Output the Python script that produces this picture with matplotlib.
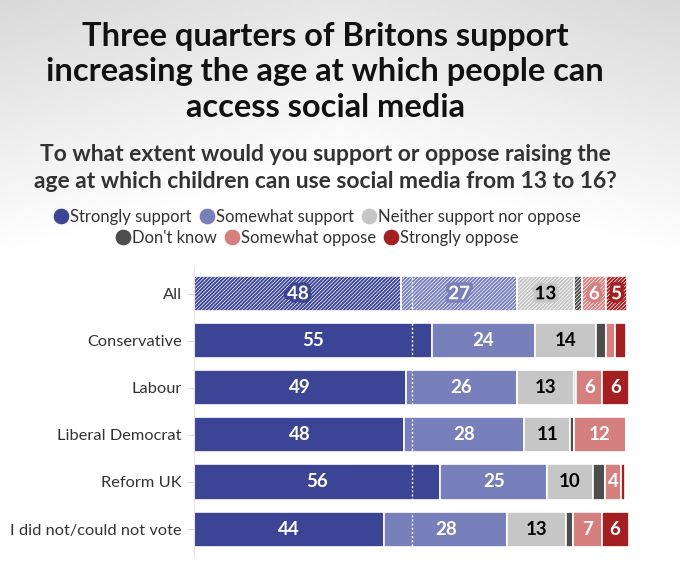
import numpy as np
import matplotlib.pyplot as plt
from matplotlib.lines import Line2D
import matplotlib.patheffects as pe

plt.rcParams['font.family'] = ['Lato', 'DejaVu Sans']
plt.rcParams['hatch.linewidth'] = 0.5

groups = ['All', 'Conservative', 'Labour', 'Liberal Democrat', 'Reform UK',
          'I did not/could not vote']
answers = ['Strongly support', 'Somewhat support', 'Neither support nor oppose',
           "Don't know", 'Somewhat oppose', 'Strongly oppose']
colours = ['#3c4595', '#7880bb', '#c6c6c6', '#4d4d4d', '#d67f7f', '#a31f22']
text_colours = ['white', 'white', 'black', 'white', 'white', 'white']

# shares in %, one list per answer, in the order of groups
strongly_support = [47.6, 54.6, 48.6, 48.3, 56.5, 43.6]
somewhat_support = [26.6, 23.7, 25.6, 27.6, 24.7, 28.4]
neither = [13.1, 14.2, 13.2, 10.6, 10.4, 13.4]
dont_know = [1.9, 2.2, 0.5, 0.8, 2.8, 1.7]
somewhat_oppose = [5.6, 2.1, 6.0, 12.0, 3.8, 6.6]
strongly_oppose = [4.7, 2.5, 6.0, 0.0, 0.8, 6.2]

series = [strongly_support, somewhat_support, neither, dont_know,
          somewhat_oppose, strongly_oppose]

fig = plt.figure(figsize=(6.8, 5.71), dpi=100)

# soft grey background, darker at the top
bg = fig.add_axes([0, 0, 1, 1], zorder=-10)
yy, xx = np.mgrid[0:1:200j, -1:1:200j]
shade = 0.85 + 0.15 * np.clip(yy * 2.2 + (1 - np.abs(xx)) * 0.35, 0, 1)
bg.imshow(shade, cmap='gray', vmin=0, vmax=1, aspect='auto', extent=[0, 1, 0, 1])
bg.axis('off')

ax = fig.add_axes([0.286, 0.024, 0.639, 0.511])
ax.patch.set_alpha(0)

y = np.arange(len(groups))
left = np.zeros(len(groups))
for vals, col, tcol in zip(series, colours, text_colours):
    vals = np.array(vals)
    bars = ax.barh(y, vals, left=left, height=0.745, color=col,
                   edgecolor='white', linewidth=1.2)
    bars.patches[0].set_hatch('/' * 9)
    for i, v in enumerate(vals):
        if v >= 3.5:
            t = ax.text(left[i] + v / 2, y[i], f'{round(v)}', ha='center', va='center',
                        color=tcol, fontsize=13.5, fontweight='bold')
            if i == 0:
                t.set_path_effects([pe.withStroke(linewidth=5, foreground=col)])
    left += vals

ax.axvline(50, color='white', lw=1, ls=(0, (1.5, 1.5)), ymin=0.04, ymax=0.96)

ax.set_xlim(0, 100)
ax.set_ylim(len(groups) - 0.4, -0.6)
ax.set_yticks(y)
ax.set_yticklabels(groups, fontsize=11.8, color='#333333')
ax.tick_params(axis='y', length=5, color='#dddddd', pad=4)
ax.set_xticks([])
for s in ['top', 'right', 'bottom']:
    ax.spines[s].set_visible(False)
ax.spines['left'].set_color('#e3e3e3')

title = ('Three quarters of Britons support\n'
         'increasing the age at which people can\n'
         'access social media')
fig.text(0.478, 0.962, title, ha='center', va='top', fontsize=23.5,
         fontweight='bold', color='#111111', linespacing=1.27)
subtitle = ('To what extent would you support or oppose raising the\n'
            'age at which children can use social media from 13 to 16?')
fig.text(0.478, 0.747, subtitle, ha='center', va='top', fontsize=16.5,
         fontweight='bold', color='#333333', linespacing=1.32)

handles = [Line2D([], [], marker='o', ls='', markersize=12, markerfacecolor=c,
                  markeredgecolor='white', markeredgewidth=0.6) for c in colours]
for rows, yl in [(slice(0, 3), 0.62), (slice(3, 6), 0.583)]:
    fig.legend(handles[rows], answers[rows], loc='center', bbox_to_anchor=(0.466, yl),
               ncol=3, frameon=False, fontsize=12, handletextpad=0.05,
               columnspacing=0.4, handlelength=1.0, labelcolor='#333333',
               borderaxespad=0, borderpad=0)

fig.savefig('out.png', dpi=100)
